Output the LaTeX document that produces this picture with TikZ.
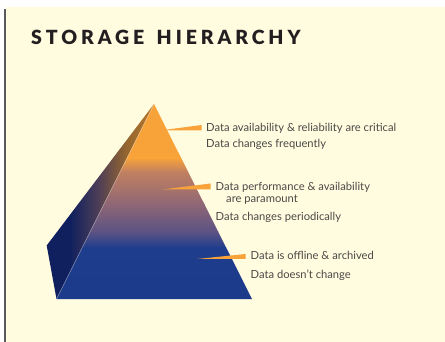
\documentclass[tikz,border=0pt]{standalone}
\usepackage{fontspec}
\setmainfont{Lato}
\newfontfamily\titlefont[LetterSpace=20]{Lato Black}
\usetikzlibrary{calc}

\definecolor{paper}{HTML}{FFFCE0}
\definecolor{rule}{HTML}{5A5A5A}
\definecolor{ink}{HTML}{231F20}
\definecolor{label}{HTML}{4A4846}
\definecolor{tipor}{HTML}{F7A33A}
\definecolor{fOr}{HTML}{F7A33A}
\definecolor{fBr}{HTML}{C18060}
\definecolor{fMa}{HTML}{8E6676}
\definecolor{fVi}{HTML}{5B5283}
\definecolor{fBl}{HTML}{1F3D8D}
\definecolor{fBd}{HTML}{1B3A8A}
\definecolor{sNv}{HTML}{10205E}
\definecolor{sPl}{HTML}{4A3C58}
\definecolor{sBr}{HTML}{94652F}
\definecolor{sOr}{HTML}{B97A2A}

\tikzset{
  labeltext/.style={font=\fontsize{11.2}{13}\selectfont, text=label, inner sep=0pt, anchor=base west},
  wedge/.style={fill=tipor},
}

\begin{document}
\begin{tikzpicture}[x=1pt, y=-1pt]
  % page
  \useasboundingbox (0,0) rectangle (445,342);
  \fill[white] (0,0) rectangle (445,342);
  \fill[paper] (6,7) rectangle (445,342);
  \draw[rule, line width=1.4pt] (5,9) -- (5,342);

  % title
  \node[anchor=base west, inner sep=0pt, text=ink,
        font=\titlefont\fontsize{19.5}{21}\selectfont] (title) at (31,44.8) {STORAGE\hspace{4pt} HIERARCHY};

  % pyramid corners
  \coordinate (apex) at (154,104);
  \coordinate (bl) at (56.5,299);
  \coordinate (br) at (252,299);
  \coordinate (back) at (46.7,245.5);

  % left (side) face
  \begin{scope}
    \clip (apex) -- (back) -- (bl) -- cycle;
    \fill[sNv] (40,100) rectangle (70,305);
    \shade[left color=sNv, right color=sPl] (70,100) rectangle (97,305);
    \shade[left color=sPl, right color=sBr] (97,100) rectangle (126,305);
    \shade[left color=sBr, right color=sOr] (126,100) rectangle (156,305);
  \end{scope}

  % front face
  \begin{scope}
    \clip (apex) -- (br) -- (bl) -- cycle;
    \fill[fOr] (40,100) rectangle (260,158);
    \shade[top color=fOr, bottom color=fBr] (40,158) rectangle (260,172);
    \shade[top color=fBr, bottom color=fMa] (40,172) rectangle (260,205);
    \shade[top color=fMa, bottom color=fVi] (40,205) rectangle (260,232);
    \shade[top color=fVi, bottom color=fBl] (40,232) rectangle (260,248);
    \shade[top color=fBl, bottom color=fBd] (40,248) rectangle (260,305);
  \end{scope}

  % highlight on the front edge
  \draw[white, opacity=0.35, line width=0.5pt] (apex) -- (bl);

  % labels
  \node[labeltext] (t1a) at (206,131.5) {Data availability \& reliability are critical};
  \node[labeltext] (t1b) at (206,148) {Data changes frequently};
  \node[labeltext] (t2a) at (215.5,190.5) {Data performance \& availability};
  \node[labeltext] (t2b) at (226,203) {are paramount};
  \node[labeltext] (t2c) at (215.5,221) {Data changes periodically};
  \node[labeltext] (t3a) at (250.5,260) {Data is offline \& archived};
  \node[labeltext] (t3b) at (250.5,278) {Data doesn't change};

  % pointer tips
  \coordinate (p1) at (160,130.5);
  \coordinate (p2) at (162,189.5);
  \coordinate (p3) at (197,259);

  \fill[wedge] (p1) -- ($(t1a.base west)+(-4.5,-6.5)$) -- ($(t1a.base west)+(-4.5,-1)$) -- cycle;
  \fill[wedge] (p2) -- ($(t2a.base west)+(-5,-7)$) -- ($(t2a.base west)+(-5,-1)$) -- cycle;
  \fill[wedge] (p3) -- ($(t3a.base west)+(-5,-6)$) -- ($(t3a.base west)+(-5,-1)$) -- cycle;
\end{tikzpicture}
\end{document}
